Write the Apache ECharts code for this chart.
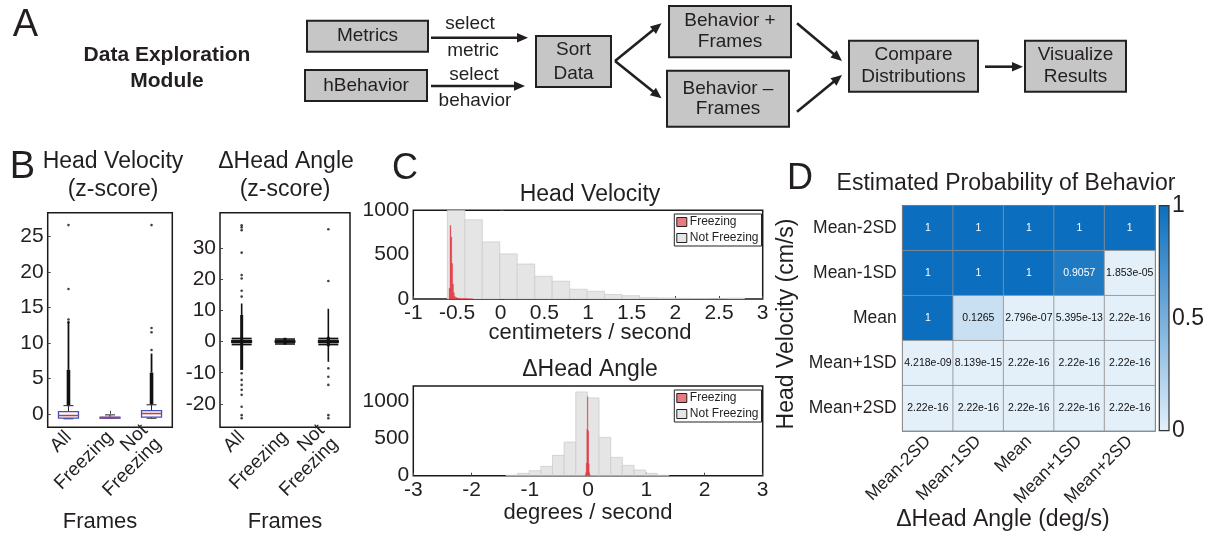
<!DOCTYPE html>
<html><head><meta charset="utf-8">
<script src="https://cdn.jsdelivr.net/npm/echarts@6/dist/echarts.min.js"></script>
<style>html,body{margin:0;padding:0;background:#fff}#c{width:1209px;height:538px}</style>
</head><body><div id="c"></div>
<script>
// ---------------- DATA ----------------
// Panel B : box plots (z-score)
const boxCategories = ['All', 'Freezing', 'Not\nFreezing'];
// [categoryIndex, lowWhisker, Q1, median, Q3, highWhisker]
const hvBoxStats = [[0, -0.7, -0.6, -0.24, 0.32, 1.15], [1, -0.6, -0.56, -0.52, -0.48, -0.15], [2, -0.62, -0.46, 0.04, 0.46, 1.27]];
const hvOutliers = [[0, 17.6], [0, 26.6], [0, 13.3], [0, 12.9], [2, 9.0], [2, 11.5], [2, 12.1], [2, 26.6]];
const hvDenseCore = [[0, 1.2, 6.2], [2, 1.3, 5.8]];
const hvDenseTail = [[0, 6.2, 13.0], [2, 5.8, 8.5]];
const hvTicks = [0, 5, 10, 15, 20, 25];

const ahBoxStats = [[0, -1.0, -0.45, 0, 0.45, 1.0], [1, -0.8, -0.4, 0, 0.4, 0.8], [2, -1.0, -0.45, 0, 0.45, 1.0]];
const ahOutliers = [[0, 37.3], [0, 36.6], [0, 35.7], [0, 28.5], [0, 21.3], [0, 20.2], [0, 16.3], [0, 14.4],
  [0, -10.2], [0, -12.3], [0, -13.9], [0, -15.5], [0, -17.1], [0, -20.9], [0, -23.6], [0, -24.6],
  [2, 36.0], [2, 19.4], [2, -8.6], [2, -11.3], [2, -13.9], [2, -23.6], [2, -24.6]];
const ahDenseCore = [[0, -9.1, 8.5], [1, -1.0, 1.2], [2, -1.5, 1.5]];
const ahDenseTail = [[0, 8.5, 12.2], [2, -6.5, 10.5]];
const ahTicks = [-20, -10, 0, 10, 20, 30];

// Panel C : histograms (bin edges and counts)
const hvNotFreezeEdges = [-0.61, -0.41, -0.21, -0.01, 0.19, 0.39, 0.59, 0.79, 0.99, 1.19, 1.39, 1.59, 1.79, 1.99, 2.19, 2.39, 2.59, 2.79];
const hvNotFreezeCounts = [1300, 893, 644, 508, 394, 256, 200, 110, 87, 51, 37, 15, 11, 8, 5, 4, 10];
const hvFreezeEdges = [-0.59, -0.58, -0.57, -0.56, -0.55, -0.54, -0.53, -0.52, -0.50, -0.47, -0.43, -0.38, -0.32];
const hvFreezeCounts = [120, 830, 700, 400, 170, 70, 30, 16, 10, 7, 5, 3];
const hvYTicks = [0, 500, 1000];

const ahNotFreezeEdges = [-1.41, -1.21, -1.01, -0.81, -0.61, -0.41, -0.21, -0.01, 0.19, 0.39, 0.59, 0.79, 0.99, 1.19, 1.39];
const ahNotFreezeCounts = [6, 31, 67, 125, 272, 450, 1120, 1040, 513, 245, 138, 76, 31, 6];
const ahFreezeEdges = [-0.05, -0.04, -0.03, -0.02, -0.01, 0.0, 0.01, 0.02, 0.03, 0.04];
const ahFreezeCounts = [10, 40, 170, 620, 1060, 600, 160, 40, 10];
const ahYTicks = [0, 500, 1000];

// Panel D : heatmap
const angleLevels = ['Mean-2SD', 'Mean-1SD', 'Mean', 'Mean+1SD', 'Mean+2SD'];
const velocityLevels = ['Mean-2SD', 'Mean-1SD', 'Mean', 'Mean+1SD', 'Mean+2SD'];
const probRow1 = [1, 1, 1, 1, 1];
const probRow2 = [1, 1, 1, 0.9057, 1.853e-05];
const probRow3 = [1, 0.1265, 2.796e-07, 5.395e-13, 2.22e-16];
const probRow4 = [4.218e-09, 8.139e-15, 2.22e-16, 2.22e-16, 2.22e-16];
const probRow5 = [2.22e-16, 2.22e-16, 2.22e-16, 2.22e-16, 2.22e-16];
const colorbarTicks = [0, 0.5, 1];

// ---------------- STYLE / LAYOUT ----------------
const FONT = '"Liberation Sans", Arial, Helvetica, sans-serif';
const TXT = '#231f20';
const HEAT_LIGHT = '#e3f0fa', HEAT_DARK = '#0b6ebe';
const RED = 'rgba(228,40,52,0.78)', RED_LEG = '#e77b7e';
const GRAY = '#e5e5e5', GRAY_EDGE = '#cdcdcd';

const gB1 = {left: 47.7, top: 212.7, width: 124.6, height: 214.6};
const gB2 = {left: 220, top: 212.7, width: 130, height: 214.6};
const gC1 = {left: 413.3, top: 210.3, width: 349.4, height: 88.7};
const gC2 = {left: 413.3, top: 386, width: 349.4, height: 89.7};
const gD = {left: 902.7, top: 205.7, width: 252.3, height: 225};
const gCB = {left: 1159.3, top: 205.7, width: 9.7, height: 225};

function frame(g) { return Object.assign({show: true, borderColor: '#1a1a1a', borderWidth: 1.5, backgroundColor: 'transparent', containLabel: false}, g); }
const plain = v => String(v);

function fmt4g(v) {
  if (v === 1) return '1';
  if (v >= 1e-4) return String(parseFloat(v.toPrecision(4)));
  let parts = v.toExponential(3).split('e');
  let m = parts[0].replace(/\.?0+$/, '');
  let e = parts[1];
  let sign = e[0] === '-' ? '-' : '+';
  let d = e.replace(/^[+-]/, '');
  if (d.length < 2) d = '0' + d;
  return m + 'e' + sign + d;
}

function histData(edges, counts) {
  return counts.map((c, i) => [edges[i], edges[i + 1], c]);
}
function histRender(fill, stroke) {
  return function (params, api) {
    const a = api.coord([api.value(0), 0]);
    const b = api.coord([api.value(1), api.value(2)]);
    return {type: 'rect', shape: {x: a[0], y: b[1], width: b[0] - a[0], height: a[1] - b[1]},
      style: {fill: fill, stroke: stroke, lineWidth: 0.8}};
  };
}
function boxRender(st) {
  return function (params, api) {
    const c = api.value(0);
    const pLow = api.coord([c, api.value(1)]);
    const pQ1 = api.coord([c, api.value(2)]);
    const pMed = api.coord([c, api.value(3)]);
    const pQ3 = api.coord([c, api.value(4)]);
    const pHigh = api.coord([c, api.value(5)]);
    const x = pQ1[0], w = st.boxW, cw = w * st.capRatio;
    const ws = {stroke: st.whisker, lineWidth: st.whiskerW};
    return {type: 'group', children: [
      {type: 'line', shape: {x1: x, y1: pQ3[1], x2: x, y2: pHigh[1]}, style: ws},
      {type: 'line', shape: {x1: x, y1: pQ1[1], x2: x, y2: pLow[1]}, style: ws},
      {type: 'line', shape: {x1: x - cw / 2, y1: pHigh[1], x2: x + cw / 2, y2: pHigh[1]}, style: ws},
      {type: 'line', shape: {x1: x - cw / 2, y1: pLow[1], x2: x + cw / 2, y2: pLow[1]}, style: ws},
      {type: 'rect', shape: {x: x - w / 2, y: pQ3[1], width: w, height: Math.max(pQ1[1] - pQ3[1], st.minH)},
        style: {fill: st.fill, stroke: st.stroke, lineWidth: st.strokeW}},
      {type: 'line', shape: {x1: x - w / 2, y1: pMed[1], x2: x + w / 2, y2: pMed[1]}, style: {stroke: st.median, lineWidth: 1.5}}
    ]};
  };
}
function bandRender(width) {
  return function (params, api) {
    const a = api.coord([api.value(0), api.value(1)]);
    const b = api.coord([api.value(0), api.value(2)]);
    return {type: 'line', shape: {x1: a[0], y1: a[1], x2: b[0], y2: b[1]}, style: {stroke: '#111', lineWidth: width}};
  };
}

const styleB1 = {boxW: 20, capRatio: 0.5, fill: '#fafafa', stroke: '#3f51c4', strokeW: 1.3, median: '#d9342b', whisker: '#222', whiskerW: 1, minH: 1};
const styleB2 = {boxW: 20, capRatio: 1, fill: '#111', stroke: '#111', strokeW: 1, median: '#111', whisker: '#111', whiskerW: 1.5, minH: 2};

const tickStyle = {show: true, inside: true, length: 3, lineStyle: {color: '#444', width: 1}};
function boxX(idx) {
  return {type: 'category', gridIndex: idx, data: boxCategories, axisLine: {show: false},
    axisTick: Object.assign({alignWithLabel: true}, tickStyle),
    axisLabel: {rotate: 45, fontSize: 19, color: TXT, margin: 7, interval: 0, lineHeight: 19, fontFamily: FONT}};
}
function valY(idx, min, max, ticks, fs) {
  return {type: 'value', gridIndex: idx, min: min, max: max, splitLine: {show: false}, axisLine: {show: false},
    axisTick: Object.assign({customValues: ticks}, tickStyle),
    axisLabel: {customValues: ticks, fontSize: fs, color: TXT, margin: 4, fontFamily: FONT, formatter: plain}};
}
function histX(idx, min, max, interval) {
  return {type: 'value', gridIndex: idx, min: min, max: max, interval: interval, splitLine: {show: false}, axisLine: {show: false},
    axisTick: tickStyle, axisLabel: {fontSize: 21, color: TXT, margin: 4, fontFamily: FONT, formatter: plain}};
}
function legendFor(top) {
  return {left: 674.3, top: top, orient: 'vertical', selectedMode: false, itemWidth: 10, itemHeight: 9, itemGap: 4,
    padding: [2, 3, 2, 2], backgroundColor: '#fff', borderColor: '#222', borderWidth: 1, borderRadius: 0,
    textStyle: {fontSize: 12, color: TXT, fontFamily: FONT, padding: [0, 0, 0, -2]},
    data: [{name: 'Freezing', icon: 'rect', itemStyle: {color: RED_LEG, borderColor: '#222', borderWidth: 1}},
           {name: 'Not Freezing', icon: 'rect', itemStyle: {color: GRAY, borderColor: '#222', borderWidth: 1}}]};
}

// heatmap data
const probRows = [probRow1, probRow2, probRow3, probRow4, probRow5];
const heatData = [];
probRows.forEach((row, r) => row.forEach((v, c) => {
  heatData.push({value: [c, r, v], label: {color: v > 0.5 ? '#ffffff' : '#111111'}});
}));

// ---------------- PANEL A + TEXT (graphic) ----------------
const INK = '#231f20';
function t(text, x, y, size, extra) {
  return {type: 'text', silent: true, style: Object.assign({text: text, x: x, y: y, fill: TXT,
    font: size + 'px ' + FONT, align: 'center', verticalAlign: 'middle', lineHeight: Math.round(size * 1.12)}, extra || {})};
}
function flowBox(x1, y1, x2, y2, label, lh) {
  return [
    {type: 'rect', silent: true, shape: {x: x1, y: y1, width: x2 - x1, height: y2 - y1},
      style: {fill: '#c6c6c6', stroke: INK, lineWidth: 2}},
    t(label, (x1 + x2) / 2, (y1 + y2) / 2, 19, {lineHeight: lh || 21})
  ];
}
function arrow(x1, y1, x2, y2) {
  const L = 11, H = 4.8;
  const dx = x2 - x1, dy = y2 - y1, len = Math.sqrt(dx * dx + dy * dy);
  const ux = dx / len, uy = dy / len;
  const bx = x2 - ux * L, by = y2 - uy * L;
  return [
    {type: 'line', silent: true, shape: {x1: x1, y1: y1, x2: bx + ux * 1, y2: by + uy * 1}, style: {stroke: INK, lineWidth: 2.6}},
    {type: 'polygon', silent: true, shape: {points: [[x2, y2], [bx - uy * H, by + ux * H], [bx + uy * H, by - ux * H]]}, style: {fill: INK}}
  ];
}
const graphics = [].concat(
  [t('A', 25.5, 26, 38)],
  [t('Data Exploration', 167, 55, 21, {font: 'bold 21px ' + FONT}), t('Module', 167, 81.7, 21, {font: 'bold 21px ' + FONT})],
  flowBox(307, 20.7, 428, 51.7, 'Metrics'),
  flowBox(305, 70, 427, 101, 'hBehavior'),
  arrow(431, 37.7, 528, 37.7), arrow(431, 86, 525, 86),
  [t('select', 470, 24, 19), t('metric', 473, 51, 19), t('select', 474, 74.5, 19), t('behavior', 475, 100.5, 19)],
  flowBox(536, 36, 611, 87, 'Sort\nData', 24),
  arrow(615, 61, 661.5, 23.3), arrow(615, 61, 661.5, 98.3),
  flowBox(669, 6, 791, 57.3, 'Behavior +\nFrames', 21),
  flowBox(667, 70.7, 789, 126.7, 'Behavior –\nFrames', 19.5),
  arrow(797, 23.3, 842, 61), arrow(797, 111.7, 842, 75),
  flowBox(849, 40.7, 978, 91.7, 'Compare\nDistributions', 22),
  arrow(985, 66.7, 1023, 66.7),
  flowBox(1025, 40.7, 1126, 91.7, 'Visualize\nResults', 22),
  // panel B text
  [t('B', 22.5, 167.5, 38), t('Head Velocity', 113, 162, 23), t('(z-score)', 113, 190, 23),
   t('ΔHead Angle', 286, 162, 23), t('(z-score)', 285, 190, 23),
   t('Frames', 100, 521.7, 22), t('Frames', 285, 521.7, 22)],
  // panel C text
  [t('C', 405, 169, 36), t('Head Velocity', 590, 195, 23), t('centimeters / second', 590, 332.7, 22),
   t('ΔHead Angle', 590, 369.3, 23), t('degrees / second', 588, 513.3, 22)],
  // panel D text
  [t('D', 800, 179, 36), t('Estimated Probability of Behavior', 1006, 183.3, 23),
   t('ΔHead Angle (deg/s)', 1003, 520, 23),
   {type: 'text', silent: true, x: 787, y: 324, rotation: Math.PI / 2,
     style: {text: 'Head Velocity (cm/s)', x: 0, y: 0, fill: TXT, font: '23px ' + FONT, align: 'center', verticalAlign: 'middle'}}]
);

// ---------------- CHART ----------------
const chart = echarts.init(document.getElementById('c'), null, {renderer: 'canvas'});
chart.setOption({
  animation: false,
  backgroundColor: '#fff',
  textStyle: {fontFamily: FONT},
  grid: [frame(gB1), frame(gB2), frame(gC1), frame(gC2), frame(gD), Object.assign({show: false}, gCB)],
  legend: [legendFor(214), legendFor(390)],
  visualMap: {show: false, type: 'continuous', min: 0, max: 1, seriesIndex: 12, dimension: 2,
    inRange: {color: [HEAT_LIGHT, HEAT_DARK]}},
  xAxis: [
    boxX(0), boxX(1),
    histX(2, -1, 3, 0.5), histX(3, -3, 3, 1),
    {type: 'category', gridIndex: 4, data: angleLevels, axisLine: {show: false}, axisTick: {show: false}, splitLine: {show: false},
      axisLabel: {rotate: 45, fontSize: 17.5, color: TXT, margin: 8, interval: 0, fontFamily: FONT}},
    {type: 'category', gridIndex: 5, data: ['cb'], show: false}
  ],
  yAxis: [
    valY(0, -1.9, 28.35, hvTicks, 21),
    valY(1, -27.5, 41.3, ahTicks, 21),
    valY(2, 0, 1000, hvYTicks, 21),
    valY(3, 0, 1200, ahYTicks, 21),
    {type: 'category', gridIndex: 4, data: velocityLevels, inverse: true, axisLine: {show: false}, axisTick: {show: false},
      axisLabel: {fontSize: 17.5, color: TXT, margin: 6, fontFamily: FONT}},
    {type: 'value', gridIndex: 5, min: 0, max: 1, position: 'right', splitLine: {show: false}, axisLine: {show: false},
      axisTick: {show: false}, axisLabel: {customValues: colorbarTicks, fontSize: 23, color: TXT, margin: 3, fontFamily: FONT, formatter: plain}}
  ],
  series: [
    // 0-3 : head velocity box plot
    {type: 'custom', xAxisIndex: 0, yAxisIndex: 0, data: hvDenseTail, renderItem: bandRender(1.8), encode: {x: 0, y: [1, 2]}},
    {type: 'custom', xAxisIndex: 0, yAxisIndex: 0, data: hvDenseCore, renderItem: bandRender(3.6), encode: {x: 0, y: [1, 2]}},
    {type: 'custom', xAxisIndex: 0, yAxisIndex: 0, data: hvBoxStats, renderItem: boxRender(styleB1), encode: {x: 0, y: [1, 5]}},
    {type: 'scatter', xAxisIndex: 0, yAxisIndex: 0, data: hvOutliers, symbolSize: 2.6, itemStyle: {color: '#111'}},
    // 4-7 : delta head angle box plot
    {type: 'custom', xAxisIndex: 1, yAxisIndex: 1, data: ahDenseTail, renderItem: bandRender(1.6), encode: {x: 0, y: [1, 2]}},
    {type: 'custom', xAxisIndex: 1, yAxisIndex: 1, data: ahDenseCore, renderItem: bandRender(3), encode: {x: 0, y: [1, 2]}},
    {type: 'custom', xAxisIndex: 1, yAxisIndex: 1, data: ahBoxStats, renderItem: boxRender(styleB2), encode: {x: 0, y: [1, 5]}},
    {type: 'scatter', xAxisIndex: 1, yAxisIndex: 1, data: ahOutliers, symbolSize: 2.6, itemStyle: {color: '#111'}},
    // 8-11 : histograms
    {name: 'Not Freezing', type: 'custom', xAxisIndex: 2, yAxisIndex: 2, clip: true, data: histData(hvNotFreezeEdges, hvNotFreezeCounts),
      renderItem: histRender(GRAY, GRAY_EDGE), encode: {x: [0, 1], y: 2}, itemStyle: {color: GRAY}},
    {name: 'Freezing', type: 'custom', xAxisIndex: 2, yAxisIndex: 2, clip: true, data: histData(hvFreezeEdges, hvFreezeCounts),
      renderItem: histRender(RED, 'rgba(228,40,52,0.35)'), encode: {x: [0, 1], y: 2}, itemStyle: {color: RED_LEG}},
    {name: 'Not Freezing', type: 'custom', xAxisIndex: 3, yAxisIndex: 3, clip: true, data: histData(ahNotFreezeEdges, ahNotFreezeCounts),
      renderItem: histRender(GRAY, GRAY_EDGE), encode: {x: [0, 1], y: 2}, itemStyle: {color: GRAY}},
    {name: 'Freezing', type: 'custom', xAxisIndex: 3, yAxisIndex: 3, clip: true, data: histData(ahFreezeEdges, ahFreezeCounts),
      renderItem: histRender(RED, 'rgba(228,40,52,0.35)'), encode: {x: [0, 1], y: 2}, itemStyle: {color: RED_LEG}},
    // 12 : heatmap
    {type: 'heatmap', xAxisIndex: 4, yAxisIndex: 4, data: heatData,
      itemStyle: {borderColor: '#8f8f8f', borderWidth: 0.8},
      label: {show: true, fontSize: 10.5, fontFamily: FONT, formatter: p => fmt4g(p.value[2])},
      emphasis: {disabled: true}},
    // 13 : colorbar
    {type: 'custom', xAxisIndex: 5, yAxisIndex: 5, data: [[0, 0, 1]], encode: {x: 0, y: [1, 2]},
      renderItem: function (params, api) {
        const top = api.coord([0, api.value(2)]);
        const bot = api.coord([0, api.value(1)]);
        const cs = params.coordSys;
        return {type: 'rect', shape: {x: cs.x, y: top[1], width: cs.width, height: bot[1] - top[1]},
          style: {fill: new echarts.graphic.LinearGradient(0, 0, 0, 1, [{offset: 0, color: HEAT_DARK}, {offset: 1, color: HEAT_LIGHT}]),
            stroke: '#333', lineWidth: 1.2}};
      }}
  ],
  graphic: graphics
});
</script>
</body></html>
